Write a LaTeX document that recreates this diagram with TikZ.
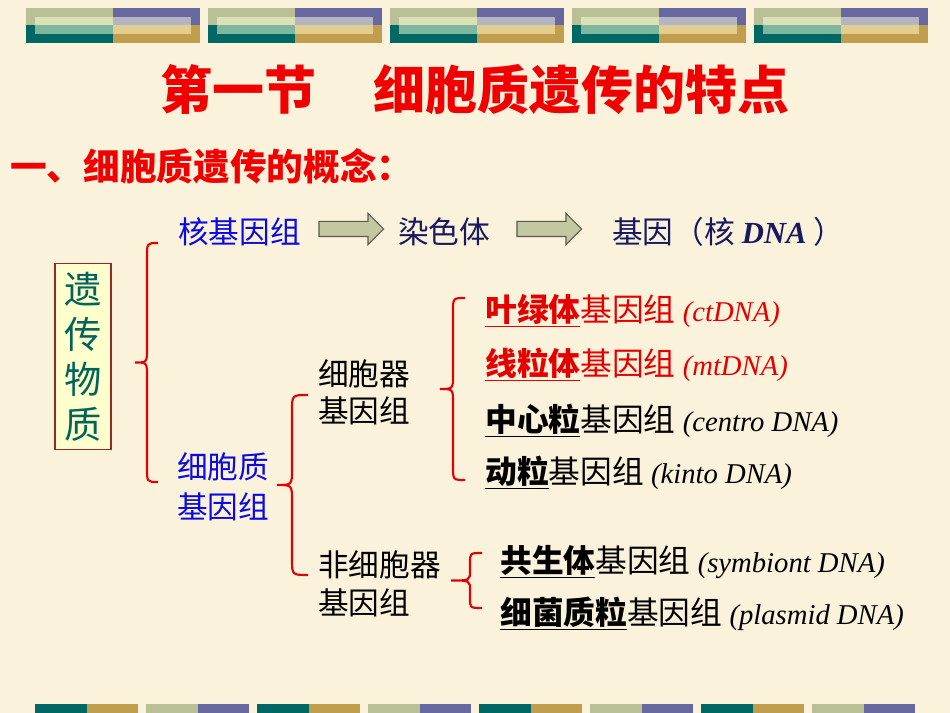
\documentclass[tikz,border=0pt]{standalone}
\usepackage{fontspec}
\setmainfont{Liberation Serif}
\newfontfamily\cjk{Noto Sans CJK SC}
\usetikzlibrary{shapes.arrows, positioning, calc}

\definecolor{paper}{RGB}{251,242,220}
\definecolor{sage}{RGB}{186,192,150}
\definecolor{slate}{RGB}{104,104,160}
\definecolor{teal}{RGB}{0,104,100}
\definecolor{ochre}{RGB}{192,158,78}
\definecolor{sagelt}{RGB}{220,224,182}
\definecolor{slatelt}{RGB}{180,180,196}
\definecolor{teallt}{RGB}{128,182,160}
\definecolor{ochrelt}{RGB}{226,206,142}
\definecolor{titlered}{RGB}{240,0,0}
\definecolor{geneblue}{RGB}{10,10,225}
\definecolor{navy}{RGB}{25,25,95}
\definecolor{boxtext}{RGB}{0,100,90}
\definecolor{boxfill}{RGB}{255,255,205}
\definecolor{boxline}{RGB}{150,40,40}
\definecolor{arrowfill}{RGB}{196,200,160}
\definecolor{arrowline}{RGB}{90,90,80}

% one brace: x end, x stem, x tip, y top, y bottom, curl
\newcommand{\curly}[6]{%
  \pgfmathsetmacro\ymid{(#4+#5)/2}
  \draw[bracket] (#1,#4) .. controls (#2,#4) .. (#2,#4+#6)
    -- (#2,\ymid-#6) .. controls (#2,\ymid) .. (#3,\ymid)
    .. controls (#2,\ymid) .. (#2,\ymid+#6)
    -- (#2,#5-#6) .. controls (#2,#5) .. (#1,#5);}

\newcommand{\organ}[2]{\underline{\textbf{#1}}基因组 {\rmfamily\itshape\fontsize{21.5}{28}\selectfont (#2)}}

\begin{document}
\begin{tikzpicture}[
    x=0.75pt, y=-0.75pt,
    label/.style={
        inner sep=0pt,
        anchor=west,
        font=\cjk\fontsize{23}{28}\selectfont
    },
    item/.style={
        inner sep=0pt,
        anchor=west,
        text height=21pt,
        text depth=3pt,
        font=\cjk\fontsize{23.8}{28}\selectfont
    },
    fatarrow/.style={
        single arrow,
        draw=arrowline,
        fill=arrowfill,
        line width=0.9pt,
        inner sep=5.25pt,
        minimum height=48.5pt,
        minimum width=22.5pt,
        single arrow head extend=6pt
    },
    bracket/.style={draw=red!90!black, line width=1.6pt}
]

\fill[paper] (0,0) rectangle (950,713);

% bars at the top
\foreach \k in {0,...,4} {
    \pgfmathsetmacro\xa{26+182*\k}
    \fill[sage]  (\xa,8) rectangle (\xa+87,25.5);
    \fill[slate] (\xa+87,8) rectangle (\xa+174,25.5);
    \fill[teal]  (\xa,25.5) rectangle (\xa+87,43);
    \fill[ochre] (\xa+87,25.5) rectangle (\xa+174,43);
    \fill[sagelt]  (\xa+9,17) rectangle (\xa+87,25.5);
    \fill[slatelt] (\xa+87,17) rectangle (\xa+165,25.5);
    \fill[teallt]  (\xa+9,25.5) rectangle (\xa+87,34);
    \fill[ochrelt] (\xa+87,25.5) rectangle (\xa+165,34);
}

% bars at the bottom
\foreach \k in {0,...,7} {
    \pgfmathsetmacro\xa{35+111*\k}
    \pgfmathparse{mod(\k,2)==0 ? "teal" : "sage"}\edef\ca{\pgfmathresult}
    \pgfmathparse{mod(\k,2)==0 ? "ochre" : "slate"}\edef\cb{\pgfmathresult}
    \fill[\ca] (\xa,704) rectangle (\xa+51.5,713);
    \fill[\cb] (\xa+51.5,704) rectangle (\xa+103,713);
}

\node[inner sep=0pt, text=titlered, font=\cjk\bfseries\fontsize{39}{44}\selectfont]
    (title) at (475,90) {第一节\hspace{1.1em}细胞质遗传的特点};
\node[inner sep=0pt, anchor=west, text=titlered, font=\cjk\bfseries\fontsize{27.5}{30}\selectfont]
    (sub) at (10,166) {一、细胞质遗传的概念：};

\node[draw=boxline, line width=0.9pt, fill=boxfill, text=boxtext, align=center,
      inner sep=0pt, minimum width=42pt, minimum height=140pt,
      font=\cjk\fontsize{28}{33.75}\selectfont]
    (matbox) at (83,356.5) {遗\\传\\物\\质};

\node[label, text=geneblue] (nucgen) at (178,232) {核基因组};
\node[label, text=navy] (chrom) at (398,232) {染色体};
\node[label, text=navy] (gene) at (612,232) {基因（核 {\rmfamily\bfseries\itshape DNA} ）};
\node[fatarrow] (arr1) at (347.5,229) {};
\node[fatarrow] (arr2) at (545.5,229) {};

\node[label, text=geneblue, align=left, font=\cjk\fontsize{23}{30}\selectfont]
    (cytgen) at (177,487) {细胞质\\基因组};
\node[label, align=left] (orggen) at (318,392) {细胞器\\基因组};
\node[label, align=left, font=\cjk\fontsize{23}{28.5}\selectfont]
    (nonorg) at (318,584) {非细胞器\\基因组};

\node[item, text=red!90!black] (ct) at (485,309) {\organ{叶绿体}{ctDNA}};
\node[item, text=red!90!black] (mt) at (485,363) {\organ{线粒体}{mtDNA}};
\node[item] (centro) at (485,419) {\organ{中心粒}{centro DNA}};
\node[item] (kinto) at (485,471) {\organ{动粒}{kinto DNA}};
\node[item] (symb) at (500,560) {\organ{共生体}{symbiont DNA}};
\node[item] (plasmid) at (500,612) {\organ{细菌质粒}{plasmid DNA}};

\curly{158}{147}{135}{243}{482}{14}
\curly{308}{292}{277}{395}{575}{16}
\curly{465}{453}{440}{298}{480}{14}
\curly{482}{470}{451}{553}{608}{10}

\end{tikzpicture}
\end{document}
